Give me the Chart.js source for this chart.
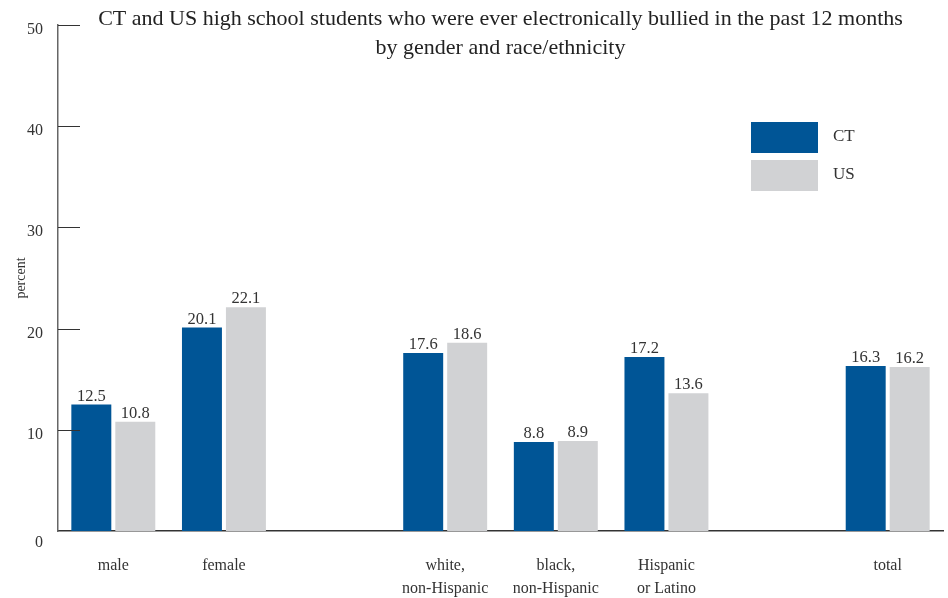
<!DOCTYPE html>
<html>
<head>
<meta charset="utf-8">
<script src="https://cdn.jsdelivr.net/npm/chart.js@4/dist/chart.umd.min.js"></script>
<style>
  html, body { margin: 0; padding: 0; background: #fff; }
  #wrap { width: 948px; height: 598px; position: relative; }
</style>
</head>
<body>
<div id="wrap"><canvas id="c" width="948" height="598"></canvas></div>
<script>
const titleLines = ['CT and US high school students who were ever electronically bullied in the past 12 months', 'by gender and race/ethnicity'];
const categories = [['male'], ['female'], [''], ['white,', 'non-Hispanic'], ['black,', 'non-Hispanic'], ['Hispanic', 'or Latino'], [''], ['total']];
const seriesNames = ['CT', 'US'];
const ctValues = [12.5, 20.1, null, 17.6, 8.8, 17.2, null, 16.3];
const usValues = [10.8, 22.1, null, 18.6, 8.9, 13.6, null, 16.2];
const yTicks = [0, 10, 20, 30, 40, 50];
const yAxisTitle = 'percent';

const FONT = "'Liberation Serif', 'DejaVu Serif', serif";
const TEXT = '#333333';

const titlePlugin = {
  id: 'titleDraw',
  afterDraw(chart) {
    const ctx = chart.ctx;
    const a = chart.chartArea;
    const cx = (a.left + a.right) / 2;
    ctx.save();
    ctx.font = '22px ' + FONT;
    ctx.fillStyle = '#222';
    ctx.textAlign = 'center';
    ctx.textBaseline = 'middle';
    titleLines.forEach((t, i) => ctx.fillText(t, cx, 19 + i * 29));
    ctx.restore();
  }
};

const yAxisDraw = {
  id: 'yAxisDraw',
  afterDraw(chart) {
    const ctx = chart.ctx;
    const y = chart.scales.y;
    const a = chart.chartArea;
    ctx.save();
    ctx.strokeStyle = '#333';
    ctx.lineWidth = 1;
    ctx.font = '16px ' + FONT;
    ctx.fillStyle = TEXT;
    ctx.textAlign = 'right';
    ctx.textBaseline = 'middle';
    yTicks.forEach(v => {
      const py = Math.round(y.getPixelForValue(v)) + 0.5;
      if (v !== 0) {
        ctx.beginPath();
        ctx.moveTo(a.left, py);
        ctx.lineTo(a.left + 22, py);
        ctx.stroke();
      }
      ctx.fillText(String(v), 43, py + (v === 0 ? 11 : 4));
    });
    ctx.restore();
  }
};

const valueLabels = {
  id: 'valueLabels',
  afterDatasetsDraw(chart) {
    const ctx = chart.ctx;
    ctx.save();
    ctx.font = '16.5px ' + FONT;
    ctx.fillStyle = TEXT;
    ctx.textAlign = 'center';
    ctx.textBaseline = 'bottom';
    chart.data.datasets.forEach((ds, di) => {
      const meta = chart.getDatasetMeta(di);
      meta.data.forEach((bar, i) => {
        const v = ds.data[i];
        if (v === null || v === undefined) return;
        ctx.fillText(v.toFixed(1), bar.x, bar.y);
      });
    });
    ctx.restore();
  }
};

const legendDraw = {
  id: 'legendDraw',
  afterDraw(chart) {
    const ctx = chart.ctx;
    ctx.save();
    ctx.font = '17px ' + FONT;
    ctx.textAlign = 'left';
    ctx.textBaseline = 'middle';
    chart.data.datasets.forEach((ds, i) => {
      const top = 122 + i * 38;
      ctx.fillStyle = ds.backgroundColor;
      ctx.fillRect(751, top, 67, 31);
      ctx.fillStyle = TEXT;
      ctx.fillText(ds.label, 833, top + 15);
    });
    ctx.restore();
  }
};

new Chart(document.getElementById('c'), {
  type: 'bar',
  data: {
    labels: categories,
    datasets: [
      { label: seriesNames[0], data: ctValues, backgroundColor: '#005596' },
      { label: seriesNames[1], data: usValues, backgroundColor: '#d1d2d4' }
    ]
  },
  options: {
    responsive: false,
    animation: false,
    events: [],
    layout: { padding: { top: 25, right: 5, left: 0, bottom: 0 } },
    plugins: { legend: { display: false }, title: { display: false }, tooltip: { enabled: false } },
    datasets: { bar: { categoryPercentage: 0.795, barPercentage: 0.909 } },
    scales: {
      x: {
        grid: { display: false, drawTicks: false },
        border: { display: true, color: '#333', width: 1.5 },
        ticks: { color: TEXT, font: { family: FONT, size: 16, lineHeight: 1.4 }, padding: 24, maxRotation: 0, autoSkip: false },
        afterFit(s) { s.height = 67; }
      },
      y: {
        min: 0, max: 50,
        afterBuildTicks(s) { s.ticks = yTicks.map(v => ({ value: v })); },
        grid: { display: false, drawTicks: false },
        border: { display: true, color: '#666', width: 1.5 },
        ticks: { display: false },
        title: { display: true, text: yAxisTitle, color: TEXT, font: { family: FONT, size: 14 }, padding: { top: 13, bottom: 0 } },
        afterFit(s) { s.width = 58; }
      }
    }
  },
  plugins: [titlePlugin, yAxisDraw, valueLabels, legendDraw]
});
</script>
</body>
</html>
